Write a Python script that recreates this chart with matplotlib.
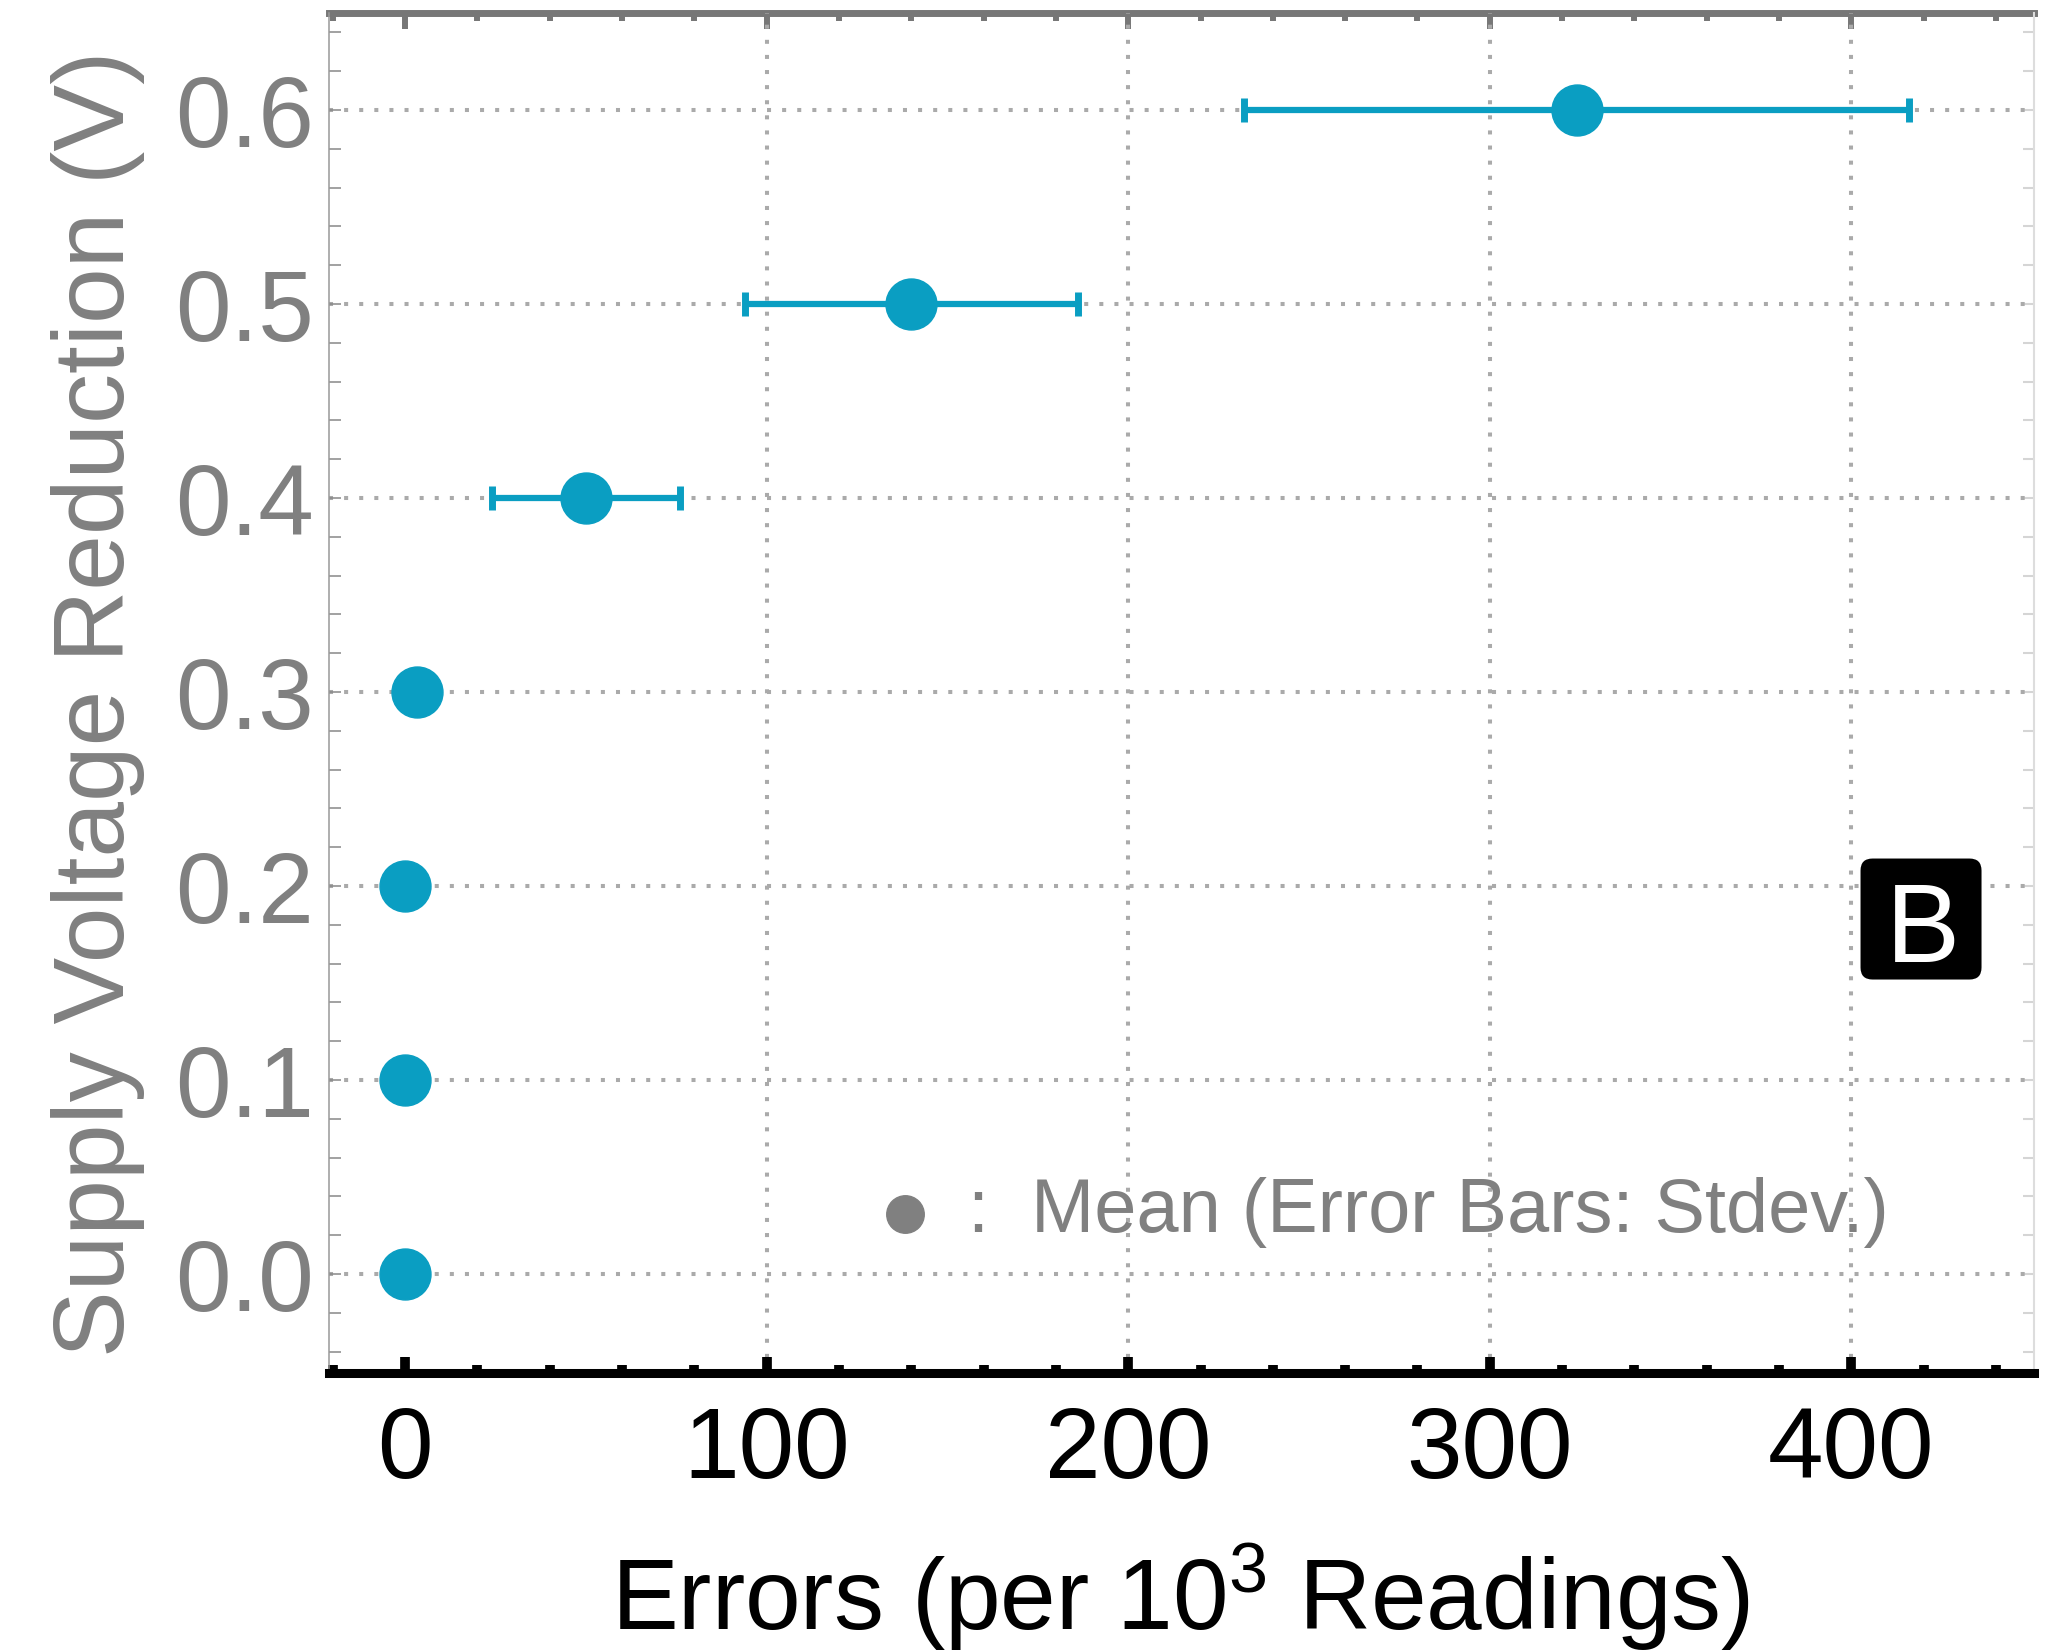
import numpy as np
import matplotlib
matplotlib.use("Agg")
import matplotlib.pyplot as plt
from matplotlib.patches import FancyBboxPatch
from matplotlib.transforms import ScaledTranslation

plt.rcParams['font.family'] = ['Liberation Sans', 'DejaVu Sans']
plt.rcParams['mathtext.fontset'] = 'custom'
plt.rcParams['mathtext.rm'] = 'Liberation Sans'
plt.rcParams['mathtext.it'] = 'Liberation Sans:italic'

# data
voltage = [0.0, 0.1, 0.2, 0.3, 0.4, 0.5, 0.6]
errors_mean = [0.0, 0.0, 0.0, 3.3, 50.0, 140.0, 324.0]
errors_std = [0.0, 0.0, 0.0, 0.0, 26.0, 46.0, 92.0]

xticks = [0, 100, 200, 300, 400]
xgrid = [100, 200, 300, 400]
yticks = [0.0, 0.1, 0.2, 0.3, 0.4, 0.5, 0.6]
ytick_labels = ["0.0", "0.1", "0.2", "0.3", "0.4", "0.5", "0.6"]

teal = "#0a9ec2"
gray = "#808080"

fig = plt.figure(figsize=(20.64, 16.51), dpi=100)
ax = fig.add_axes([0.1594, 0.1684, 0.8261, 0.8237])
ax.set_xlim(-21, 450.5)
ax.set_ylim(-0.051, 0.65)

# grid
for y in yticks:
    ax.axhline(y, color="#aaaaaa", lw=2.9, ls=(0, (1, 2.75)), zorder=1)
for x in xgrid:
    ax.axvline(x, color="#aaaaaa", lw=2.9, ls=(0, (1, 2.75)), zorder=1)

ax.errorbar(errors_mean, voltage, xerr=errors_std, fmt='o', color=teal,
            ms=36.7, elinewidth=4.5, capsize=8.4, capthick=5, zorder=3)

# bottom axis
ax.set_xticks(xticks)
ax.set_xticks(np.arange(-20, 441, 20), minor=True)
ax.tick_params(axis='x', which='both', direction='in', color='black',
               width=7, labelsize=72, pad=23, labelcolor='black')
ax.tick_params(axis='x', which='major', length=11.5)
ax.tick_params(axis='x', which='minor', length=5.8)
ax.spines['bottom'].set_linewidth(6.5)
ax.spines['bottom'].set_color('black')

# left axis
ax.set_yticks(yticks)
ax.set_yticklabels(ytick_labels)
ax.set_yticks(np.arange(-0.04, 0.641, 0.02), minor=True)
ax.tick_params(axis='y', which='both', direction='in', color='#888888',
               width=1.1, length=8.6, labelsize=72, pad=11, labelcolor=gray)
ax.spines['left'].set_color('#999999')
ax.spines['left'].set_linewidth(1.1)

ax.spines['top'].set_visible(False)
ax.spines['right'].set_visible(False)

# top axis
top = ax.secondary_xaxis('top')
top.set_xticks(xticks)
top.set_xticks(np.arange(-20, 441, 20), minor=True)
top.tick_params(axis='x', which='both', direction='in', color='#777777',
                width=4.3, labelsize=0, labeltop=False)
top.tick_params(axis='x', which='major', length=11.5)
top.tick_params(axis='x', which='minor', length=5.8)
top.spines['top'].set_color('#777777')
top.spines['top'].set_linewidth(5)

# right axis
right = ax.secondary_yaxis('right')
right.set_yticks(yticks)
right.set_yticks(np.arange(-0.04, 0.641, 0.02), minor=True)
right.tick_params(axis='y', which='both', direction='in', color='#d5d5d5',
                  width=1.5, length=8, labelright=False)
right.spines['right'].set_color('#dddddd')
right.spines['right'].set_linewidth(1.5)

# axis labels
fig.text(98 / 2064, 1 - 703.5 / 1651, "Supply Voltage Reduction (V)",
         rotation=90, ha='center', va='center', fontsize=72, color=gray)
fig.text(0.5717, 1 - 1630 / 1651, "Errors (per 10$^{3}$ Readings)",
         ha='center', va='baseline', fontsize=72, color='black')

# legend note
ax.plot([0.338], [0.117], 'o', color=gray, ms=27, transform=ax.transAxes,
        clip_on=False)
ax.text(0.3748, 0.1037, ":  Mean (Error Bars: Stdev.)", transform=ax.transAxes,
        ha='left', va='baseline', fontsize=54.5, color=gray)

# panel letter
tr = fig.dpi_scale_trans + ScaledTranslation(0.9337, 0.3338, ax.transAxes)
box = FancyBboxPatch((-0.485, -0.485), 0.97, 0.97,
                     boxstyle='round,pad=0.12,rounding_size=0.12',
                     transform=tr, fc='black', ec='none', clip_on=False, zorder=4)
ax.add_artist(box)
ax.text(0.9349, 0.3022, "B", transform=ax.transAxes, ha='center', va='baseline',
        fontsize=80, color='white', fontweight='normal', zorder=5)

fig.savefig("out.png", dpi=100)
